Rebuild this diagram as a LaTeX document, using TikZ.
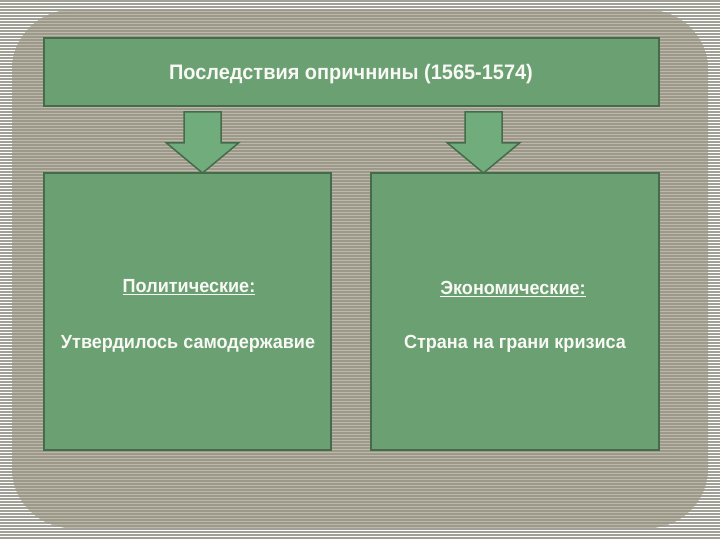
\documentclass[tikz,border=0pt]{standalone}
\usepackage{fontspec}
\usepackage{xcolor}
\usepackage{tikz}
\newfontfamily\slidefont{Liberation Sans Bold}[FakeStretch=0.95]
\definecolor{boxgreen}{RGB}{107,160,114}
\definecolor{boxline}{RGB}{68,108,74}
\definecolor{arrowgreen}{RGB}{112,172,124}
\definecolor{panelgray}{RGB}{156,153,139}
\definecolor{panelline}{RGB}{188,184,170}
\definecolor{stripe}{RGB}{160,160,150}
\definecolor{textwhite}{RGB}{248,248,244}

\begin{document}
\begin{tikzpicture}[x=1pt, y=-1pt,
  greenbox/.style={draw=boxline, line width=2pt, fill=boxgreen},
  boxtext/.style={text=textwhite, font=\slidefont\fontsize{19}{21}\selectfont, inner sep=0pt},
  downarrow/.style={draw=boxline, line width=1.5pt, fill=arrowgreen, line join=miter}]
  \useasboundingbox (0,0) rectangle (720,540);
  % striped background
  \fill[white] (0,0) rectangle (720,540);
  \foreach \y in {1,4,...,539}
    \draw[stripe, line width=1.6pt] (0,\y) -- (720,\y);
  \fill[panelgray, rounded corners=60pt] (12,10) rectangle (708,528);
  \begin{scope}
    \clip[rounded corners=60pt] (12,10) rectangle (708,528);
    \foreach \y in {2.5,5.5,...,528}
      \draw[panelline, line width=1pt] (12,\y) -- (708,\y);
  \end{scope}
  % boxes
  \node[greenbox, minimum width=615pt, minimum height=68pt] (top) at (351.5,72) {};
  \node[greenbox, minimum width=287pt, minimum height=277pt] (polit) at (187.5,311.5) {};
  \node[greenbox, minimum width=288pt, minimum height=277pt] (econ) at (515,311.5) {};
  % arrows
  \foreach \ax in {202.5,483.5}
    \draw[downarrow] (\ax-18.5,112) -- (\ax+18.5,112) -- (\ax+18.5,143) -- (\ax+36,143)
      -- (\ax,173) -- (\ax-36,143) -- (\ax-18.5,143) -- cycle;
  % texts
  \node[boxtext, font=\slidefont\fontsize{21}{23}\selectfont] (toptext) at (351,74) {Последствия опричнины (1565-1574)};
  \node[boxtext] (polithead) at (189,287) {\underline{Политические:}};
  \node[boxtext] (polittext) at (188,344) {Утвердилось самодержавие};
  \node[boxtext] (econhead) at (513,289) {\underline{Экономические:}};
  \node[boxtext] (econtext) at (515,344) {Страна на грани кризиса};
\end{tikzpicture}
\end{document}
